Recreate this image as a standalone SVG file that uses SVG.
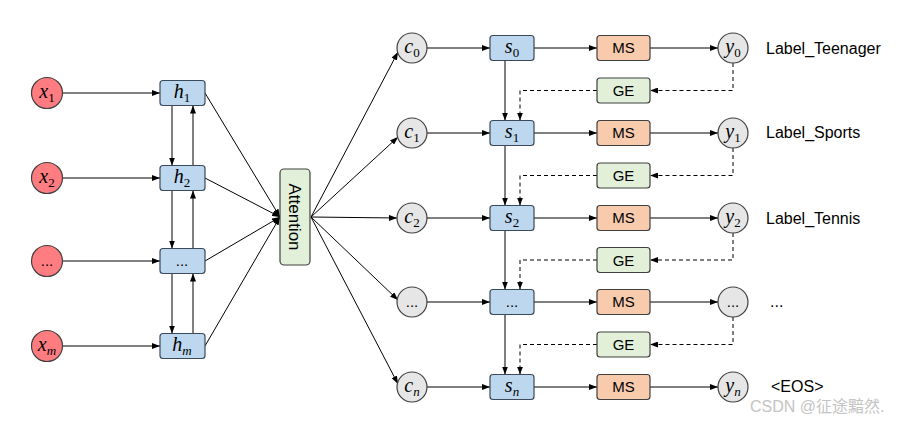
<svg xmlns="http://www.w3.org/2000/svg" width="909" height="422" viewBox="0 0 909 422">
<defs>
<marker id="ah" markerWidth="8" markerHeight="6" refX="8" refY="3" orient="auto" markerUnits="userSpaceOnUse"><path d="M0,0 L8,3 L0,6 z" fill="#000"/></marker>
<style>
.ln{stroke:#000;stroke-width:1;fill:none;marker-end:url(#ah)}
.dsa{stroke:#000;stroke-width:1;fill:none;stroke-dasharray:4,3;marker-end:url(#ah)}
.xc{fill:#FF7C80;stroke:#404040;stroke-width:1.2}
.gc{fill:#E6E6E6;stroke:#404040;stroke-width:1.2}
.bx{fill:#BDD7EE;stroke:#3A4A5A;stroke-width:1.2}
.ms{fill:#F8CBAD;stroke:#404040;stroke-width:1.2}
.ge{fill:#E2F0D9;stroke:#404040;stroke-width:1.2}
.m{font-family:"Liberation Serif",serif;font-size:20px;fill:#000;text-anchor:middle}
.mi{font-style:italic}
.sb{font-size:13px}
.t{font-family:"Liberation Sans",Arial,sans-serif;font-size:15px;fill:#000;text-anchor:middle}
.at{font-family:"Liberation Sans",Arial,sans-serif;font-size:17px;fill:#000;text-anchor:middle}
.lb{font-family:"Liberation Sans",Arial,sans-serif;font-size:16px;fill:#000}
</style>
</defs>
<g id="connectors">
<line class="ln" x1="63" y1="93" x2="160" y2="93"/>
<line class="ln" x1="63" y1="178" x2="160" y2="178"/>
<line class="ln" x1="63" y1="261" x2="160" y2="261"/>
<line class="ln" x1="63" y1="346" x2="160" y2="346"/>
<line class="ln" x1="172" y1="105.5" x2="172" y2="165.5"/>
<line class="ln" x1="193" y1="165.5" x2="193" y2="105.5"/>
<line class="ln" x1="172" y1="190.5" x2="172" y2="248.5"/>
<line class="ln" x1="193" y1="248.5" x2="193" y2="190.5"/>
<line class="ln" x1="172" y1="273.5" x2="172" y2="333.5"/>
<line class="ln" x1="193" y1="333.5" x2="193" y2="273.5"/>
<line class="ln" x1="205" y1="93" x2="280" y2="217"/>
<line class="ln" x1="205" y1="178" x2="280" y2="217"/>
<line class="ln" x1="205" y1="261" x2="280" y2="217"/>
<line class="ln" x1="205" y1="346" x2="280" y2="217"/>
<line class="ln" x1="311" y1="217" x2="398" y2="52"/>
<line class="ln" x1="311" y1="217" x2="398" y2="137"/>
<line class="ln" x1="311" y1="217" x2="397" y2="218"/>
<line class="ln" x1="311" y1="217" x2="398" y2="300"/>
<line class="ln" x1="311" y1="217" x2="398" y2="384"/>
<line class="ln" x1="427" y1="48" x2="490" y2="48"/>
<line class="ln" x1="427" y1="133" x2="490" y2="133"/>
<line class="ln" x1="427" y1="218" x2="490" y2="218"/>
<line class="ln" x1="427" y1="302" x2="490" y2="302"/>
<line class="ln" x1="427" y1="387" x2="490" y2="387"/>
<line class="ln" x1="534" y1="48" x2="597" y2="48"/>
<line class="ln" x1="534" y1="133" x2="597" y2="133"/>
<line class="ln" x1="534" y1="218" x2="597" y2="218"/>
<line class="ln" x1="534" y1="302" x2="597" y2="302"/>
<line class="ln" x1="534" y1="387" x2="597" y2="387"/>
<line class="ln" x1="650" y1="48" x2="718" y2="48"/>
<line class="ln" x1="650" y1="133" x2="718" y2="133"/>
<line class="ln" x1="650" y1="218" x2="718" y2="218"/>
<line class="ln" x1="650" y1="302" x2="718" y2="302"/>
<line class="ln" x1="650" y1="387" x2="718" y2="387"/>
<line class="ln" x1="505" y1="60.5" x2="505" y2="120.5"/>
<line class="ln" x1="505" y1="145.5" x2="505" y2="205.5"/>
<line class="ln" x1="505" y1="230.5" x2="505" y2="289.5"/>
<line class="ln" x1="505" y1="314.5" x2="505" y2="374.5"/>
<polyline class="dsa" points="733,63 733,90.5 650,90.5"/>
<polyline class="dsa" points="597,90.5 520,90.5 520,120.5"/>
<polyline class="dsa" points="733,148 733,175.5 650,175.5"/>
<polyline class="dsa" points="597,175.5 520,175.5 520,205.5"/>
<polyline class="dsa" points="733,233 733,260 650,260"/>
<polyline class="dsa" points="597,260 520,260 520,289.5"/>
<polyline class="dsa" points="733,317 733,344.5 650,344.5"/>
<polyline class="dsa" points="597,344.5 520,344.5 520,374.5"/>
</g>
<g id="x1"><circle class="xc" cx="47" cy="93" r="15.5"/><text class="m" x="47" y="98"><tspan class="mi">x</tspan><tspan class="sb" dy="4">1</tspan></text></g>
<g id="x2"><circle class="xc" cx="47" cy="178" r="15.5"/><text class="m" x="47" y="183"><tspan class="mi">x</tspan><tspan class="sb" dy="4">2</tspan></text></g>
<g id="x3"><circle class="xc" cx="47" cy="261" r="15.5"/><text class="t" x="47" y="266">...</text></g>
<g id="xm"><circle class="xc" cx="47" cy="346" r="15.5"/><text class="m" x="47" y="351"><tspan class="mi">x</tspan><tspan class="sb mi" dy="4">m</tspan></text></g>
<g id="h1"><rect class="bx" x="160" y="80.5" width="45" height="25" rx="3"/><text class="m" x="182" y="98"><tspan class="mi">h</tspan><tspan class="sb" dy="4">1</tspan></text></g>
<g id="h2"><rect class="bx" x="160" y="165.5" width="45" height="25" rx="3"/><text class="m" x="182" y="183"><tspan class="mi">h</tspan><tspan class="sb" dy="4">2</tspan></text></g>
<g id="h3"><rect class="bx" x="160" y="248.5" width="45" height="25" rx="3"/><text class="t" x="182" y="266">...</text></g>
<g id="hm"><rect class="bx" x="160" y="333.5" width="45" height="25" rx="3"/><text class="m" x="182" y="351"><tspan class="mi">h</tspan><tspan class="sb mi" dy="4">m</tspan></text></g>
<g id="attention"><rect class="ge" x="280" y="169" width="30" height="96" rx="4"/><text class="at" transform="translate(295,217) rotate(90)" y="6">Attention</text></g>
<g id="c0"><circle class="gc" cx="412" cy="48" r="15"/><text class="m" x="412" y="53"><tspan class="mi">c</tspan><tspan class="sb" dy="4">0</tspan></text></g>
<g id="c1"><circle class="gc" cx="412" cy="133" r="15"/><text class="m" x="412" y="138"><tspan class="mi">c</tspan><tspan class="sb" dy="4">1</tspan></text></g>
<g id="c2"><circle class="gc" cx="412" cy="218" r="15"/><text class="m" x="412" y="223"><tspan class="mi">c</tspan><tspan class="sb" dy="4">2</tspan></text></g>
<g id="c3"><circle class="gc" cx="412" cy="302" r="15"/><text class="t" x="412" y="307">...</text></g>
<g id="cn"><circle class="gc" cx="412" cy="387" r="15"/><text class="m" x="412" y="392"><tspan class="mi">c</tspan><tspan class="sb mi" dy="4">n</tspan></text></g>
<g id="s0"><rect class="bx" x="490" y="35.5" width="44" height="25" rx="3"/><text class="m" x="512" y="53"><tspan class="mi">s</tspan><tspan class="sb" dy="4">0</tspan></text></g>
<g id="s1"><rect class="bx" x="490" y="120.5" width="44" height="25" rx="3"/><text class="m" x="512" y="138"><tspan class="mi">s</tspan><tspan class="sb" dy="4">1</tspan></text></g>
<g id="s2"><rect class="bx" x="490" y="205.5" width="44" height="25" rx="3"/><text class="m" x="512" y="223"><tspan class="mi">s</tspan><tspan class="sb" dy="4">2</tspan></text></g>
<g id="s3"><rect class="bx" x="490" y="289.5" width="44" height="25" rx="3"/><text class="t" x="512" y="307">...</text></g>
<g id="sn"><rect class="bx" x="490" y="374.5" width="44" height="25" rx="3"/><text class="m" x="512" y="392"><tspan class="mi">s</tspan><tspan class="sb mi" dy="4">n</tspan></text></g>
<g id="ms0"><rect class="ms" x="597" y="35.5" width="53" height="25" rx="3"/><text class="t" x="623.5" y="53">MS</text></g>
<g id="ms1"><rect class="ms" x="597" y="120.5" width="53" height="25" rx="3"/><text class="t" x="623.5" y="138">MS</text></g>
<g id="ms2"><rect class="ms" x="597" y="205.5" width="53" height="25" rx="3"/><text class="t" x="623.5" y="223">MS</text></g>
<g id="ms3"><rect class="ms" x="597" y="289.5" width="53" height="25" rx="3"/><text class="t" x="623.5" y="307">MS</text></g>
<g id="msn"><rect class="ms" x="597" y="374.5" width="53" height="25" rx="3"/><text class="t" x="623.5" y="392">MS</text></g>
<g id="ge0"><rect class="ge" x="597" y="78" width="53" height="25" rx="3"/><text class="t" x="623.5" y="96">GE</text></g>
<g id="ge1"><rect class="ge" x="597" y="163" width="53" height="25" rx="3"/><text class="t" x="623.5" y="181">GE</text></g>
<g id="ge2"><rect class="ge" x="597" y="247.5" width="53" height="25" rx="3"/><text class="t" x="623.5" y="265.5">GE</text></g>
<g id="ge3"><rect class="ge" x="597" y="332" width="53" height="25" rx="3"/><text class="t" x="623.5" y="350">GE</text></g>
<g id="y0"><circle class="gc" cx="733" cy="48" r="15"/><text class="m" x="733" y="53"><tspan class="mi">y</tspan><tspan class="sb" dy="4">0</tspan></text></g>
<g id="y1"><circle class="gc" cx="733" cy="133" r="15"/><text class="m" x="733" y="138"><tspan class="mi">y</tspan><tspan class="sb" dy="4">1</tspan></text></g>
<g id="y2"><circle class="gc" cx="733" cy="218" r="15"/><text class="m" x="733" y="223"><tspan class="mi">y</tspan><tspan class="sb" dy="4">2</tspan></text></g>
<g id="y3"><circle class="gc" cx="733" cy="302" r="15"/><text class="t" x="733" y="307">...</text></g>
<g id="yn"><circle class="gc" cx="733" cy="387" r="15"/><text class="m" x="733" y="392"><tspan class="mi">y</tspan><tspan class="sb mi" dy="4">n</tspan></text></g>
<g id="labels">
<text class="lb" x="766" y="54">Label_Teenager</text>
<text class="lb" x="766" y="138">Label_Sports</text>
<text class="lb" x="766" y="224">Label_Tennis</text>
<text class="lb" x="770" y="307">...</text>
<text class="lb" x="771" y="392">&lt;EOS&gt;</text>
<text x="750" y="412" font-family="Liberation Sans,'Noto Sans CJK SC',sans-serif" font-size="16" fill="#c4c4c4">CSDN @征途黯然.</text>
</g>
</svg>
